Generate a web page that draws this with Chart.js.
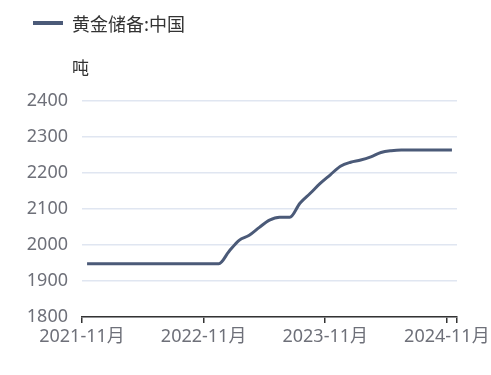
<!DOCTYPE html>
<html>
<head>
<meta charset="utf-8">
<script src="https://cdn.jsdelivr.net/npm/chart.js@4"></script>
<style>
    html, body { margin: 0; padding: 0; background: #fff; }
    canvas { display: block; }
</style>
</head>
<body>
<canvas id="chart-oro" width="491" height="375"></canvas>
<script>
const seriesLabel = '黄金储备:中国';
const unitLabel = '吨';

const months = [
    '2021-11', '2021-12', '2022-01', '2022-02', '2022-03', '2022-04', '2022-05', '2022-06',
    '2022-07', '2022-08', '2022-09', '2022-10', '2022-11', '2022-12', '2023-01', '2023-02',
    '2023-03', '2023-04', '2023-05', '2023-06', '2023-07', '2023-08', '2023-09', '2023-10',
    '2023-11', '2023-12', '2024-01', '2024-02', '2024-03', '2024-04', '2024-05', '2024-06',
    '2024-07', '2024-08', '2024-09', '2024-10', '2024-11',
];

const reserves = [
    1948, 1948, 1948, 1948, 1948, 1948, 1948, 1948,
    1948, 1948, 1948, 1948, 1948, 1948, 1982, 2013,
    2027, 2049, 2069, 2077, 2077, 2116, 2143, 2171,
    2195, 2219, 2230, 2236, 2245, 2257, 2262, 2264,
    2264, 2264, 2264, 2264, 2264,
];

const yTicks = [1800, 1900, 2000, 2100, 2200, 2300, 2400];
const xTickMonths = ['2021-11', '2022-11', '2023-11', '2024-11'];

const FONT = "'Noto Sans', 'Noto Sans CJK SC', sans-serif";
const CJK_FONT = "'Noto Sans CJK SC', 'Noto Sans', sans-serif";
const LINE_COLOR = '#4b5a78';
const AXIS_COLOR = '#6e7079';

// leyenda y unidad dibujadas a mano
const headerPlugin = {
    id: 'header',
    afterDraw(chart) {
        const ctx = chart.ctx;
        const ds = chart.data.datasets[0];
        ctx.save();
        ctx.strokeStyle = ds.borderColor;
        ctx.lineWidth = 4;
        ctx.beginPath();
        ctx.moveTo(33, 23);
        ctx.lineTo(63, 23);
        ctx.stroke();

        ctx.fillStyle = '#333';
        ctx.font = `18px ${CJK_FONT}`;
        ctx.textBaseline = 'middle';
        ctx.textAlign = 'left';
        ctx.fillText(ds.label, 72, 24);

        ctx.font = `17px ${CJK_FONT}`;
        ctx.fillText(unitLabel, 72, 68);
        ctx.restore();
    },
};

const points = reserves.map((v, i) => ({ x: i + 0.5, y: v }));
const xTickValues = [...xTickMonths.map(m => months.indexOf(m)), months.length];

new Chart(document.getElementById('chart-oro'), {
    type: 'line',
    data: {
        datasets: [
            {
                label: seriesLabel,
                data: points,
                borderColor: LINE_COLOR,
                backgroundColor: LINE_COLOR,
                borderWidth: 3,
                pointRadius: 0,
                cubicInterpolationMode: 'monotone',
                fill: false,
            },
        ],
    },
    options: {
        responsive: false,
        animation: false,
        devicePixelRatio: 1,
        layout: {
            padding: { top: 101, right: 34, left: 0, bottom: 0 },
        },
        plugins: {
            legend: { display: false },
            tooltip: { enabled: false },
        },
        scales: {
            x: {
                type: 'linear',
                min: 0,
                max: months.length,
                afterFit: (scale) => { scale.height = 58; },
                afterBuildTicks: (scale) => {
                    scale.ticks = xTickValues.map(v => ({ value: v }));
                },
                ticks: {
                    autoSkip: false,
                    maxRotation: 0,
                    padding: 3,
                    color: AXIS_COLOR,
                    font: { family: FONT, size: 18 },
                    callback: (value) => (xTickMonths.includes(months[value]) ? months[value] + '月' : ''),
                },
                grid: {
                    drawOnChartArea: false,
                    drawTicks: true,
                    tickLength: 6,
                    color: '#333',
                    lineWidth: 1.5,
                },
                border: { color: '#333', width: 1.5 },
            },
            y: {
                min: yTicks[0],
                max: yTicks[yTicks.length - 1],
                afterFit: (scale) => { scale.width = 82; },
                afterBuildTicks: (scale) => {
                    scale.ticks = yTicks.map(v => ({ value: v }));
                },
                ticks: {
                    padding: 14,
                    color: AXIS_COLOR,
                    font: { family: FONT, size: 18 },
                    callback: (value) => String(value),
                },
                grid: {
                    color: '#e0e6f1',
                    lineWidth: 1.5,
                    drawTicks: false,
                },
                border: { display: false },
            },
        },
    },
    plugins: [headerPlugin],
});
</script>
</body>
</html>
